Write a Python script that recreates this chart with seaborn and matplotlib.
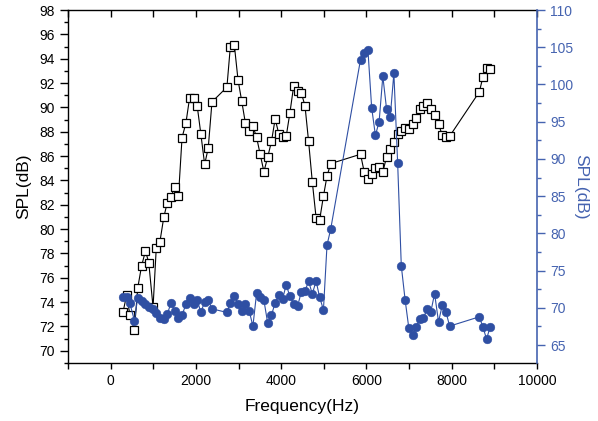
import numpy as np
import seaborn as sns
import matplotlib
matplotlib.use("Agg")
import matplotlib.pyplot as plt
from matplotlib.ticker import MultipleLocator

# shared frequency points (Hz)
freq = [289, 376, 452, 558, 635, 725, 817, 894, 995, 1071,
        1153, 1247, 1325, 1419, 1506, 1591, 1675, 1765, 1852, 1944,
        2031, 2115, 2205, 2289, 2377, 2727, 2807, 2901, 2988, 3075,
        3160, 3250, 3337, 3424, 3508, 3595, 3685, 3772, 3859, 3946,
        4031, 4118, 4205, 4292, 4384, 4471, 4558, 4643, 4730, 4819,
        4901, 4991, 5075, 5160, 5861, 5946, 6035, 6122, 6210, 6297,
        6384, 6471, 6558, 6643, 6732, 6817, 6906, 6993, 7080, 7165,
        7252, 7337, 7424, 7511, 7598, 7690, 7779, 7864, 7951, 8647,
        8730, 8817, 8901]

# left axis series (open squares)
spl_left = [73.15, 74.6, 72.93, 71.73, 75.15, 76.96, 78.21, 77.25, 73.59, 78.48,
            78.9, 80.98, 82.13, 82.67, 83.49, 82.7, 87.52, 88.7, 90.78, 90.79,
            90.1, 87.84, 85.32, 86.65, 90.45, 91.66, 94.96, 95.13, 92.25, 90.51,
            88.72, 88.04, 88.46, 87.53, 86.14, 84.72, 85.93, 87.2, 89.05, 87.8,
            87.53, 87.63, 89.56, 91.74, 91.37, 91.2, 90.14, 87.2, 83.88, 80.92,
            80.73, 82.71, 84.35, 85.38, 86.15, 84.72, 84.11, 84.51, 85.05, 85.13,
            84.71, 85.91, 86.57, 87.19, 87.82, 88.09, 88.34, 88.25, 88.67, 89.15,
            89.87, 90.15, 90.36, 89.85, 89.35, 88.62, 87.72, 87.6, 87.63, 91.27,
            92.47, 93.24, 93.13]

# right axis series (filled circles)
spl_right = [71.41, 71.45, 70.6, 68.29, 71.38, 70.95, 70.5, 70.14, 69.79, 69.34,
             68.58, 68.49, 69.16, 70.64, 69.52, 68.62, 69.03, 70.47, 71.31, 70.47,
             71.08, 69.39, 70.82, 71.04, 69.87, 69.39, 70.67, 71.62, 70.5, 69.54,
             70.48, 69.59, 67.55, 72.01, 71.49, 71.02, 67.91, 69.03, 70.68, 71.74,
             71.18, 73.08, 71.55, 70.55, 70.2, 72.12, 72.28, 73.57, 71.88, 73.6,
             71.45, 69.74, 78.43, 80.54, 103.35, 104.18, 104.6, 96.88, 93.17, 95.0,
             101.11, 96.74, 95.63, 101.51, 89.41, 75.65, 71.11, 67.32, 66.41, 67.44,
             68.53, 68.65, 69.87, 69.5, 71.92, 68.13, 70.37, 69.47, 67.55, 68.8,
             67.46, 65.8, 67.46]

blue = "#2f4fa3"
axis_blue = "#4563b0"

sns.set_style("ticks")
plt.rcParams["font.family"] = ["Liberation Sans", "DejaVu Sans"]
plt.rcParams["text.color"] = "black"
plt.rcParams["axes.labelcolor"] = "black"
plt.rcParams["xtick.color"] = "black"
plt.rcParams["ytick.color"] = "black"

fig = plt.figure(figsize=(5.98, 4.21), dpi=100)
ax = fig.add_axes([0.1137, 0.1378, 0.7843, 0.8384])

sns.lineplot(x=freq, y=spl_left, ax=ax, sort=False, estimator=None,
             color="black", linewidth=0.8, marker="s", markersize=5.6,
             markerfacecolor="white", markeredgecolor="black", markeredgewidth=0.9)

ax2 = ax.twinx()
sns.lineplot(x=freq, y=spl_right, ax=ax2, sort=False, estimator=None,
             color=blue, linewidth=0.8, marker="o", markersize=6.3,
             markerfacecolor=blue, markeredgecolor=blue, markeredgewidth=0.3)

ax.set_xlim(-1000, 10000)
ax.set_ylim(69, 98)
ax2.set_ylim(62.6, 110)

ax.xaxis.set_major_locator(MultipleLocator(2000))
ax.xaxis.set_minor_locator(MultipleLocator(1000))
ax.yaxis.set_major_locator(MultipleLocator(2))
ax.yaxis.set_minor_locator(MultipleLocator(1))
ax2.yaxis.set_major_locator(MultipleLocator(5))
ax2.yaxis.set_minor_locator(MultipleLocator(2.5))

for s in ["left", "bottom", "top"]:
    ax.spines[s].set_linewidth(1.0)
    ax.spines[s].set_color("black")
ax.spines["right"].set_visible(False)
ax2.spines["right"].set_color(axis_blue)
ax2.spines["right"].set_linewidth(1.2)
for s in ["left", "bottom", "top"]:
    ax2.spines[s].set_visible(False)

ax.tick_params(axis="x", which="both", direction="out", bottom=True, top=False,
               length=4, width=1, labelsize=10, pad=4, colors="black")
ax.tick_params(axis="y", which="major", direction="out", left=True, right=False,
               length=6, width=1, labelsize=10, colors="black")
ax.tick_params(axis="y", which="minor", direction="out", left=True, right=False,
               length=3, width=1, colors="black")

# inward ticks along the top edge (x locators are shared with ax)
ax2.xaxis.set_visible(True)
ax2.tick_params(axis="x", which="both", direction="in", top=True, bottom=False,
                labeltop=False, labelbottom=False, length=5, width=1, colors="black")

ax2.tick_params(axis="y", which="major", direction="out", right=True, left=False,
                length=6, width=1, color=axis_blue, labelcolor=axis_blue, labelsize=10)
ax2.tick_params(axis="y", which="minor", direction="out", right=True, left=False,
                length=3, width=1, color=axis_blue)

ax.set_xlabel("Frequency(Hz)", fontsize=12.5, labelpad=8, color="black")
ax.set_ylabel("SPL(dB)", fontsize=12.5, labelpad=6, color="black")
ax2.set_ylabel("SPL(dB)", fontsize=12.5, color=axis_blue, rotation=270, labelpad=11)

fig.savefig("out.png", dpi=100)
